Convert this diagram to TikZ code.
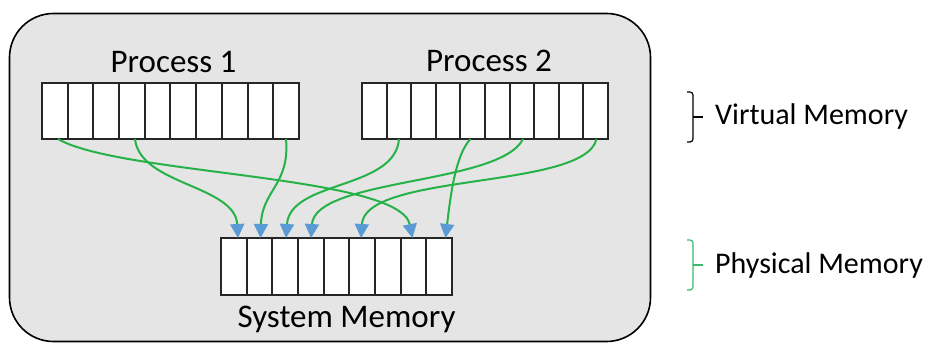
\documentclass[tikz,border=0pt]{standalone}
\usepackage{fontspec}
\setmainfont{Carlito}
\usetikzlibrary{arrows.meta}
\definecolor{bggray}{RGB}{229,229,229}
\definecolor{linkgreen}{RGB}{38,178,72}
\definecolor{tipblue}{RGB}{91,155,213}
\definecolor{bracegreen}{RGB}{60,185,110}
\tikzset{
  cell/.style={draw=black!85, line width=2pt, fill=white, inner sep=0pt, outer sep=0pt},
  link/.style={draw=linkgreen, line width=2pt, -{Triangle[length=14pt,width=14pt,color=tipblue]}},
  biglabel/.style={anchor=base, inner sep=0pt, font=\fontsize{33}{38}\selectfont},
  sidelabel/.style={anchor=base west, inner sep=0pt, font=\fontsize{30}{36}\selectfont},
  bracket/.style={line width=1.2pt}
}
\begin{document}
\begin{tikzpicture}[x=1pt,y=-1pt]
\useasboundingbox (0,0) rectangle (925,344);
% outer panel
\node[draw=black, line width=1.6pt, fill=bggray, rounded corners=44pt, minimum width=641pt, minimum height=328pt, inner sep=0pt] (panel) at (330,177.5) {};
% Process 1 cells
\foreach \i in {1,...,10}{
  \pgfmathsetmacro{\xa}{round(42+25.7*(\i-1))}
  \pgfmathsetmacro{\xb}{round(42+25.7*\i)}
  \node[cell, minimum width={(\xb-\xa)*1pt}, minimum height=56pt] (p1c\i) at ({(\xa+\xb)/2},111) {};
}
% Process 2 cells
\foreach \i in {1,...,10}{
  \pgfmathsetmacro{\xa}{round(362+24.6*(\i-1))}
  \pgfmathsetmacro{\xb}{round(362+24.6*\i)}
  \node[cell, minimum width={(\xb-\xa)*1pt}, minimum height=56pt] (p2c\i) at ({(\xa+\xb)/2},111) {};
}
% System memory cells
\foreach \i in {1,...,9}{
  \pgfmathsetmacro{\xa}{round(221+25.67*(\i-1))}
  \pgfmathsetmacro{\xb}{round(221+25.67*\i)}
  \node[cell, minimum width={(\xb-\xa)*1pt}, minimum height=57pt] (m\i) at ({(\xa+\xb)/2},266.5) {};
}
% labels
\node[biglabel] (l1) at (173.5,73) {Process 1};
\node[biglabel] (l2) at (489,72) {Process 2};
\node[biglabel] (l3) at (346.5,327) {System Memory};
\node[sidelabel] (vm) at (715,125) {Virtual Memory};
\node[sidelabel] (pm) at (715,274) {Physical Memory};
% brackets
\coordinate (vb) at (693,117);
\coordinate (pb) at (693,265);
\draw[bracket, black] (687,92) -- (690,92) to[out=0,in=90] (693,95) -- (693,139) to[out=270,in=0] (690,142) -- (687,142);
\draw[bracket, black] (vb) -- (703,117);
\draw[bracket, bracegreen] (687,240) -- (690,240) to[out=0,in=90] (693,243) -- (693,287) to[out=270,in=0] (690,290) -- (687,290);
\draw[bracket, bracegreen] (pb) -- (703,265);
% links
\draw[link] ([xshift=3pt]p1c1.south) .. controls (120,175) and (400,175) .. ([xshift=-1pt]m8.north);
\draw[link] ([xshift=3pt]p1c4.south) .. controls (140,185) and (235,185) .. ([xshift=4pt]m1.north);
\draw[link] (p1c10.south) .. controls (290,185) and (262,190) .. ([xshift=1pt]m2.north);
\draw[link] (p2c2.south) .. controls (395,190) and (290,180) .. ([xshift=1pt]m3.north);
\draw[link] ([xshift=-2pt]p2c5.south) .. controls (455,155) and (450,200) .. ([xshift=6.5pt]m9.north);
\draw[link] ([xshift=1pt]p2c7.south) .. controls (500,185) and (315,178) .. (m4.north);
\draw[link] ([xshift=1pt]p2c10.south) .. controls (585,190) and (365,172) .. ([xshift=-1pt]m6.north);
\end{tikzpicture}
\end{document}
